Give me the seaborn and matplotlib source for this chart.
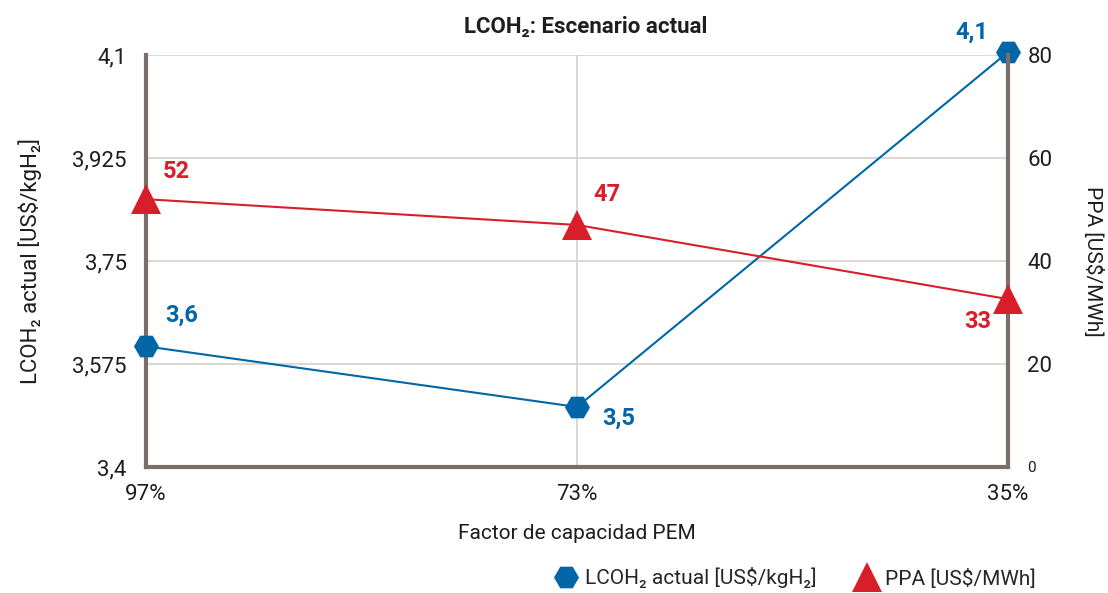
import matplotlib
matplotlib.use("Agg")
import matplotlib.pyplot as plt
import seaborn as sns
import pandas as pd
from matplotlib.lines import Line2D

categories = ["97%", "73%", "35%"]
lcoh2 = [3.605, 3.502, 4.105]
ppa = [52.0, 47.0, 32.6]
left_ticks = [3.4, 3.575, 3.75, 3.925, 4.1]
left_tick_labels = ["3,4", "3,575", "3,75", "3,925", "4,1"]
right_ticks = [0, 20, 40, 60, 80]
right_tick_labels = ["0", "20", "40", "60", "80"]

BLUE = "#0066a8"
RED = "#d81e2a"
SPINE = "#786f6a"
GRID = "#d6d1cb"
TXT = "#1e1e1e"

sns.set_style("white")
plt.rcParams["font.family"] = ["Roboto", "DejaVu Sans"]

fig = plt.figure(figsize=(11.08, 5.93), dpi=100)
ax = fig.add_axes([146/1108, 126/593, (1008-146)/1108, (467-55)/593])
ax2 = ax.twinx()

df = pd.DataFrame({"x": range(len(categories)), "lcoh2": lcoh2, "ppa": ppa})

sns.lineplot(data=df, x="x", y="lcoh2", ax=ax, color=BLUE, lw=1.5, marker="H",
             markersize=18, markeredgewidth=0, zorder=5, clip_on=False)
sns.lineplot(data=df, x="x", y="ppa", ax=ax2, color=RED, lw=1.5, marker="^",
             markersize=21, markeredgewidth=0, zorder=5, clip_on=False)

ax.set_xlim(0, len(categories) - 1)
ax.set_ylim(3.4, 4.1)
ax2.set_ylim(0, 80)

ax.set_xticks(range(len(categories)))
ax.set_xticklabels(categories, fontsize=16, color=TXT)
ax.set_yticks(left_ticks)
ax.set_yticklabels(left_tick_labels, fontsize=16, color=TXT)
ax2.set_yticks(right_ticks)
ax2.set_yticklabels(right_tick_labels, fontsize=16, color=TXT)
ax2.get_yticklabels()[0].set_fontsize(11)
ax.tick_params(axis="y", length=0, pad=14)
ax.tick_params(axis="x", length=0, pad=12)
ax2.tick_params(axis="y", length=0, pad=14)

ax.grid(False)
ax.yaxis.grid(True, color=GRID, lw=1.2)
ax.set_axisbelow(True)
ax.axvline(1, color=GRID, lw=1.2, zorder=0)
ax2.grid(False)

for a in (ax, ax2):
    a.spines["top"].set_visible(False)
    for s in ("left", "right", "bottom"):
        a.spines[s].set_color(SPINE)
        a.spines[s].set_linewidth(3)
ax.spines["right"].set_visible(False)
ax2.spines["left"].set_visible(False)
ax2.spines["bottom"].set_visible(False)

ax.set_xlabel("Factor de capacidad PEM", fontsize=15, color=TXT, labelpad=14)
ax.set_ylabel("LCOH₂ actual [US$/kgH₂]", fontsize=16, color=TXT, labelpad=22)
ax2.set_ylabel("PPA [US$/MWh]", fontsize=15, color=TXT, rotation=-90, labelpad=36)
ax.set_title("LCOH₂: Escenario actual", fontsize=16, fontweight="bold", color=TXT,
             pad=16, x=0.51)

blue_offsets = [(14, 14), (18, -8), (-14, 6)]
blue_align = [("left", "bottom"), ("left", "center"), ("right", "bottom")]
for i, v in enumerate(lcoh2):
    ax.annotate(f"{v:.1f}".replace(".", ","), (i, v), xytext=blue_offsets[i],
                textcoords="offset points", ha=blue_align[i][0], va=blue_align[i][1],
                color=BLUE, fontsize=17, fontweight="bold", zorder=6,
                annotation_clip=False)

red_offsets = [(12, 20), (12, 22), (-12, -16)]
red_align = [("left", "center"), ("left", "center"), ("right", "center")]
for i, v in enumerate(ppa):
    ax2.annotate(f"{v:.0f}", (i, v), xytext=red_offsets[i],
                 textcoords="offset points", ha=red_align[i][0], va=red_align[i][1],
                 color=RED, fontsize=17, fontweight="bold", zorder=6,
                 annotation_clip=False)

handles = [
    Line2D([], [], color=BLUE, marker="H", markersize=18, lw=0, markeredgewidth=0),
    Line2D([], [], color=RED, marker="^", markersize=21, lw=0, markeredgewidth=0),
]
fig.legend(handles, ["LCOH₂ actual [US$/kgH₂]", "PPA [US$/MWh]"], loc="center",
           bbox_to_anchor=(795/1108, 1 - 578/593), ncol=2, frameon=False,
           fontsize=15, handletextpad=0.3, columnspacing=1.8, handlelength=1.2)

fig.savefig("out.png", dpi=100)
